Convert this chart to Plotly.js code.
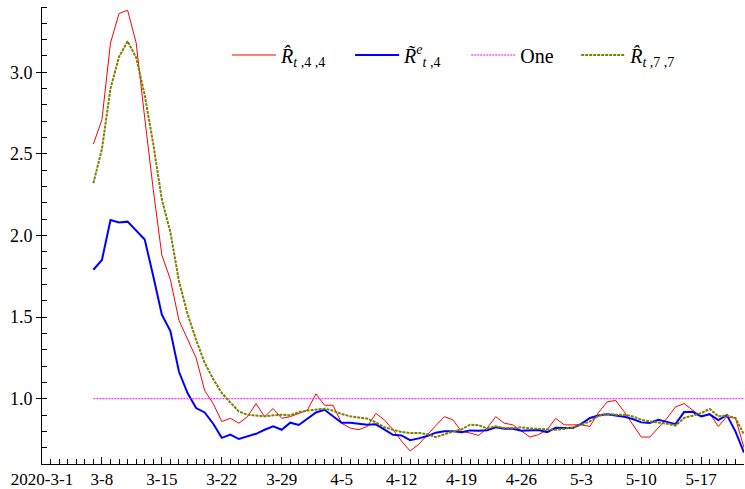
<!DOCTYPE html>
<html>
<head>
<meta charset="utf-8">
<script src="https://cdn.plot.ly/plotly-3.0.1.min.js"></script>
<style>
  html, body { margin: 0; padding: 0; background: #fff; }
  #chart { width: 745px; height: 489px; }
</style>
</head>
<body>
<div id="chart"></div>
<script>
// Daily estimates, one value per day starting 2020-03-07
const firstDay = '2020-03-07';

const rHat44 = [
  2.56, 2.71, 3.18, 3.36, 3.38, 3.18, 2.72, 2.28, 1.88, 1.73,
  1.48, 1.36, 1.25, 1.05, 0.97, 0.86, 0.88, 0.85, 0.89, 0.97,
  0.89, 0.94, 0.88, 0.89, 0.91, 0.93, 1.03, 0.96, 0.96, 0.85,
  0.82, 0.81, 0.83, 0.91, 0.87, 0.81, 0.74, 0.68, 0.72, 0.78,
  0.835, 0.89, 0.87, 0.80, 0.79, 0.775, 0.82, 0.89, 0.85, 0.84,
  0.80, 0.765, 0.78, 0.81, 0.88, 0.84, 0.84, 0.84, 0.83, 0.915,
  0.98, 0.99, 0.92, 0.845, 0.765, 0.765, 0.82, 0.88, 0.95, 0.97,
  0.93, 0.89, 0.91, 0.83, 0.89, 0.88, 0.70
];

const rTildeE4 = [
  1.79, 1.85, 2.095, 2.08, 2.085, 2.03, 1.975, 1.75, 1.515, 1.415,
  1.165, 1.035, 0.943, 0.916, 0.847, 0.76, 0.78, 0.753, 0.77, 0.785,
  0.81, 0.831, 0.81, 0.853, 0.839, 0.876, 0.916, 0.932, 0.892, 0.853,
  0.853, 0.849, 0.841, 0.843, 0.81, 0.779, 0.775, 0.746, 0.757, 0.771,
  0.792, 0.801, 0.80, 0.795, 0.806, 0.804, 0.807, 0.825, 0.816, 0.816,
  0.804, 0.806, 0.808, 0.795, 0.822, 0.82, 0.82, 0.846, 0.882, 0.897,
  0.904, 0.897, 0.89, 0.876, 0.855, 0.851, 0.871, 0.858, 0.844, 0.918,
  0.92, 0.892, 0.904, 0.869, 0.90, 0.80, 0.67
];

const rHat77 = [
  2.32, 2.53, 2.90, 3.095, 3.19, 3.09, 2.86, 2.56, 2.22, 2.02,
  1.72, 1.52, 1.36, 1.22, 1.12, 1.035, 0.977, 0.922, 0.902, 0.897,
  0.892, 0.898, 0.902, 0.898, 0.918, 0.927, 0.935, 0.939, 0.927, 0.906,
  0.892, 0.886, 0.878, 0.855, 0.825, 0.81, 0.796, 0.79, 0.79, 0.783,
  0.764, 0.782, 0.80, 0.812, 0.841, 0.838, 0.818, 0.831, 0.82, 0.82,
  0.825, 0.818, 0.815, 0.813, 0.81, 0.815, 0.825, 0.841, 0.861, 0.896,
  0.908, 0.902, 0.902, 0.892, 0.871, 0.861, 0.855, 0.847, 0.835, 0.882,
  0.896, 0.912, 0.937, 0.892, 0.896, 0.882, 0.78
];

const oneLevel = 1.0;

const xTickDates = [
  '2020-03-01', '2020-03-08', '2020-03-15', '2020-03-22', '2020-03-29', '2020-04-05',
  '2020-04-12', '2020-04-19', '2020-04-26', '2020-05-03', '2020-05-10', '2020-05-17'
];
const xTickLabels = [
  '2020-3-1', '3-8', '3-15', '3-22', '3-29', '4-5',
  '4-12', '4-19', '4-26', '5-3', '5-10', '5-17'
];
const yTickValues = [1.0, 1.5, 2.0, 2.5, 3.0];
const yTickLabels = ['1.0', '1.5', '2.0', '2.5', '3.0'];

// Calendar days for the series
function dayList(start, n) {
  const [y, m, d] = start.split('-').map(Number);
  const out = [];
  for (let i = 0; i < n; i++) {
    out.push(new Date(Date.UTC(y, m - 1, d + i)).toISOString().slice(0, 10));
  }
  return out;
}
const days = dayList(firstDay, rHat44.length);

const serif = '"Liberation Serif", "Times New Roman", serif';
const legendFont = { family: serif, size: 20, color: '#000' };

// one legend box per series so each key sits at its own place in the row
function keyBox(xPos) {
  return {
    orientation: 'h',
    x: xPos, xanchor: 'left',
    y: 0.895, yanchor: 'middle',
    bgcolor: 'rgba(0,0,0,0)',
    borderwidth: 0,
    font: legendFont,
    itemwidth: 44
  };
}

const traces = [
  {
    x: days, y: rHat44, type: 'scatter', mode: 'lines',
    name: '<i>R\u0302</i><sub><i>t</i> ,4 ,4</sub>',
    legend: 'legend',
    line: { color: '#ff0000', width: 1 }
  },
  {
    x: days, y: rTildeE4, type: 'scatter', mode: 'lines',
    name: '<i>R\u0303</i><sup><i>e</i></sup><sub><i>t</i> ,4</sub>',
    legend: 'legend2',
    line: { color: '#0000ff', width: 2 }
  },
  {
    x: days, y: days.map(() => oneLevel), type: 'scatter', mode: 'lines',
    name: 'One',
    legend: 'legend3',
    line: { color: '#ff00ff', width: 1, dash: '2px,1px' }
  },
  {
    x: days, y: rHat77, type: 'scatter', mode: 'lines',
    name: '<i>R\u0302</i><sub><i>t</i> ,7 ,7</sub>',
    legend: 'legend4',
    line: { color: '#808000', width: 2, dash: '3px,1px' }
  }
];

const layout = {
  width: 745,
  height: 489,
  margin: { l: 42, r: 1, t: 7, b: 25 },
  paper_bgcolor: '#ffffff',
  plot_bgcolor: '#ffffff',
  font: { family: serif, size: 17, color: '#000' },
  showlegend: true,
  legend: keyBox(0.2636),
  legend2: keyBox(0.4389),
  legend3: keyBox(0.6043),
  legend4: keyBox(0.761),
  xaxis: {
    type: 'date',
    range: ['2020-03-01', '2020-05-22'],
    tickmode: 'array',
    tickvals: xTickDates,
    ticktext: xTickLabels,
    ticks: 'inside', ticklen: 7, tickcolor: '#000', tickwidth: 1,
    showline: true, linecolor: '#000', linewidth: 1,
    showgrid: false, zeroline: false,
    tickfont: { family: serif, size: 17, color: '#000' },
    minor: { dtick: 86400000, ticks: 'inside', ticklen: 5, tickcolor: '#000', tickwidth: 1, showgrid: false }
  },
  yaxis: {
    range: [0.6, 3.4],
    tickmode: 'array',
    tickvals: yTickValues,
    ticktext: yTickLabels,
    ticks: 'outside', ticklen: 5, tickcolor: '#000', tickwidth: 1,
    showline: true, linecolor: '#000', linewidth: 1,
    showgrid: false, zeroline: false,
    tickfont: { family: serif, size: 18, color: '#000' },
    minor: { dtick: 0.1, tick0: 0, ticks: 'inside', ticklen: 5, tickcolor: '#000', tickwidth: 1, showgrid: false }
  }
};

Plotly.newPlot('chart', traces, layout, { displayModeBar: false, staticPlot: true });
</script>
</body>
</html>
